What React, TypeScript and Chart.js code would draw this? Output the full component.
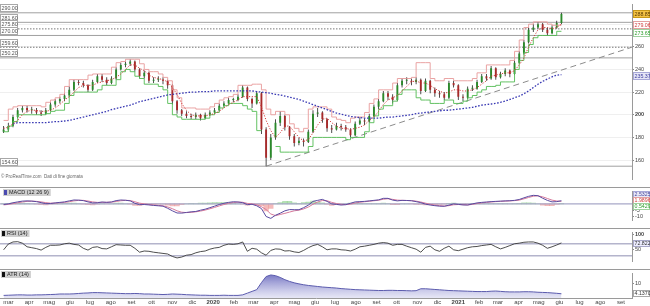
import React, { useEffect, useRef } from 'react';
import { Chart, registerables } from 'chart.js';
Chart.register(...registerables);

// ---------------- data (weekly) ----------------
const firstWeek = '2019-02-22';
const firstOpen = 185;
const closes = [
  187,190,198,204,206,204,204,202,201,204,
  209,212,214,217,222,229,228,226,222,229,
  234,231,228,232,240,244,245,247,240,234,
  237,230,231,231,230,226,212,204,201,199,
  198,200,197,200,202,204,208,210,213,213,
  216,224,214,210,219,187,162,180,193,199,
  189,181,175,177,176,185,201,202,196,188,
  187,190,189,187,182,192,195,194,199,207,
  212,219,216,213,226,230,230,229,231,221,
  230,222,219,218,215,228,226,216,215,223,
  223,229,234,232,241,233,236,239,236,246,
  254,264,275,277,280,275,272,277,281,288.85];
const highs = [
  190,193,200,206,208,208,207,206,204,206,
  211,214,216,219,225,231,231,230,227,231,
  236,236,233,234,242,246,247,249,248,241,
  239,238,233,234,233,231,227,213,205,203,
  201,202,201,202,204,206,210,212,215,215,
  218,226,225,215,221,220,189,183,196,203,
  200,190,183,180,179,187,204,206,203,197,
  191,193,192,191,188,194,198,197,201,209,
  214,221,221,218,228,232,233,232,233,232,
  232,231,224,221,220,230,230,227,218,225,
  226,231,236,236,243,242,238,241,240,248,
  256,266,277,280,281.6,281,277,279,283,290];
const lows = [
  184,185,189,197,202,202,201,200,199,200,
  203,207,210,212,216,221,226,224,220,221,
  228,229,226,227,231,239,242,243,238,232,
  232,228,228,229,227,223,209,201,199,197,
  196,196,195,196,199,201,203,207,209,211,
  212,215,212,206,209,183,154.6,160,178,190,
  186,178,172,173,172,175,184,198,193,185,
  184,186,186,185,180,181,191,191,193,198,
  205,211,213,210,212,224,227,226,227,218,
  220,219,216,215,213,214,224,213,212,214,
  221,222,228,230,231,231,232,234,233,235,
  245,253,263,273,276,273,270,271,276,280];
const upperStop = [
  195,195,205,207,208,208,208,208,208,207,
  211,213,215,218,225,231,231,231,231,235,
  236,236,236,236,242,246,247,249,249,249,
  245,240,238,238,236,233,230,222,215,206,
  206,206,205,205,205,207,210,213,215,216,
  218,226,226,226,227,227,222,205,200,203,
  203,200,192,188,185,188,205,207,207,207,
  205,198,196,195,193,197,198,198,202,210,
  214,222,222,222,228,232,232,232,233,246,
  246,246,232,230,230,232,232,230,230,230,
  230,232,237,237,244,244,244,244,244,248,
  256,266,277,280,282,282,282,280,279,279.06];
const lowerStop = [
  185,185,190,194,200,200,200,200,200,200,
  201,203,204,204,210,217,220,220,220,220,
  220,222,226,226,226,231,238,240,238,234,
  232,227,227,227,225,222,210,200,198,196,
  196,196,196,196,197,200,202,206,208,210,
  210,210,208,205,203,186,null,null,172,172,
  167,167,167,167,167,167,172,180,180,180,
  180,180,180,180,178,180,180,180,185,193,
  199,205,208,208,212,218,222,222,222,215,
  213,213,210,210,210,213,213,210,210,212,
  215,217,220,222,225,225,226,229,229,229,
  240,248,255,262,268,270,270,270,270,273.65];
const maShort = [
  188,189,192,195,200,203,204,204,203,203,
  204,206,209,213,216,220,224,226,226,226,
  228,229,230,231,233,236,240,244,244,241,
  239,235,233,232,231,229,224,218,210,204,
  200,199,199,199,200,201,203,206,209,211,
  213,216,216,216,216,207,195,186,180,184,
  190,190,185,180,177,178,184,191,196,197,
  193,190,188,188,187,188,189,191,195,198,
  203,209,213,215,217,221,225,229,230,228,
  228,226,223,221,219,220,222,222,221,221,
  222,224,227,230,234,235,236,237,237,239,
  244,250,260,268,275,277,277,276,277,280];
const maLong = [
  null,null,192,193,193,193,193,193,193,193,
  193.5,194,194,194.5,195,196,197,198,199,200,
  201,202,203,204.5,205.5,206.5,207.5,208.5,210,211.5,
  212.5,213.5,214.5,215.5,216.5,217.5,218,218.5,219,219.5,
  220,220,220.5,220.5,220.5,221,221,221,221,221,
  221,221,221,221,220.5,220,219.5,219,218,217.5,
  216.5,215.5,214.5,213.5,212,210.5,209,207.5,206,204.5,
  203,201.5,200.5,199.5,198.5,198,197.5,197,197,197,
  197,197.5,198,198,198.5,199,199.5,200,201,201.5,
  202,202.5,203,203.5,204,204,204.5,205,205.5,206,
  206.5,207.5,208.5,209,209.5,210,211,212,213.5,215,
  216.5,218.5,221,224,227,229.5,231.5,233.5,235,235.37];
const macdLine = [
  -0.5,0,0.9,1.6,2.2,2.4,2.2,1.8,1.0,0.2,
  0.3,0.8,1.2,1.6,2.4,3.1,3.0,2.6,1.6,0.8,
  0.9,1.5,1.2,1.5,2.6,3.1,2.9,2.4,0.5,-0.6,
  -0.5,-0.8,-1.2,-1.5,-1.8,-3.5,-5.5,-7.2,-7.3,-6.8,
  -6.3,-6.0,-5.0,-4.2,-3.0,-1.8,-0.5,0.5,1.2,1.7,
  1.5,1.0,-0.6,-0.3,-1.5,-3.7,-10,-11.5,-9.0,-7.4,
  -5.5,-4.5,-4.6,-4.6,-3.0,-1.0,2.0,2.8,3.6,2.0,
  0,-0.4,-0.9,-0.6,0.5,1.6,1.8,2.0,2.4,2.8,
  3.2,4.4,4.4,3.0,2.4,2.8,2.7,2.5,1.8,1.0,
  -0.2,-0.9,-1.4,-1.8,-1.9,-1.0,0,-0.4,-0.8,-0.9,
  0,0.8,1.2,1.5,1.8,2.0,2.2,2.4,2.5,2.8,
  3.5,4.8,6.0,6.8,6.5,4.5,2.8,1.6,1.8,2.5325];
const macdSignal = [
  -0.8,-0.4,0.2,0.9,1.5,2.0,2.2,2.0,1.6,1.0,
  0.6,0.6,0.9,1.2,1.7,2.4,2.8,2.8,2.3,1.6,
  1.2,1.2,1.3,1.4,1.9,2.5,2.8,2.7,1.7,0.6,
  0,-0.5,-0.8,-1.2,-1.5,-2.4,-3.8,-5.5,-6.6,-6.9,
  -6.7,-6.3,-5.7,-4.9,-3.9,-2.8,-1.6,-0.5,0.4,1.1,
  1.4,1.3,0.4,0,-0.7,-2.2,-4.5,-8.0,-9.3,-8.4,
  -7.5,-6.5,-5.5,-5.0,-4.0,-2.5,-0.3,1.5,2.7,2.5,
  1.2,0.3,-0.4,-0.6,-0.2,0.7,1.3,1.7,2.1,2.5,
  2.9,3.7,4.1,3.6,3.0,2.8,2.7,2.6,2.2,1.5,
  0.6,-0.3,-0.9,-1.4,-1.7,-1.4,-0.7,-0.5,-0.6,-0.8,
  -0.4,0.3,0.8,1.2,1.5,1.8,2.0,2.2,2.4,2.6,
  3.0,4.0,5.1,6.1,6.4,5.6,4.3,3.0,2.3,1.9896];
const macdHist = [
  0.3,0.4,0.7,0.7,0.7,0.4,0,-0.2,-0.6,-0.8,
  -0.3,0.2,0.3,0.4,0.7,0.7,0.2,-0.2,-0.7,-0.8,
  -0.3,0.3,-0.1,0.1,0.7,0.6,0.1,-0.3,-1.2,-1.2,
  -0.5,-0.3,-0.4,-0.3,-0.3,-1.1,-1.7,-1.7,-0.7,0.1,
  0.4,0.3,0.7,0.7,0.9,1.0,1.1,1.0,0.8,0.6,
  0.1,-0.3,-1.0,-0.3,-0.8,-1.5,-5.5,-3.5,0.3,1.0,
  2.0,2.0,0.9,0.4,1.0,1.5,2.3,1.3,0.9,-0.5,
  -1.2,-0.7,-0.5,0,0.7,0.9,0.5,0.3,0.3,0.3,
  0.3,0.7,0.3,-0.6,-0.6,0,0,-0.1,-0.4,-0.5,
  -0.8,-0.6,-0.5,-0.4,-0.2,0.4,0.7,0.1,-0.2,-0.1,
  0.4,0.5,0.4,0.3,0.3,0.2,0.2,0.2,0.1,0.2,
  0.5,0.8,0.9,0.7,0.1,-1.1,-1.5,-1.4,-0.5,0.5429];
const rsi = [
  50,69,76,77,72,60,57,54,49,58,
  65,65,66,70,72,68,66,55,49,58,
  60,54,53,60,67,66,65,65,55,42,
  46,45,42,40,38,36,28,23,26,32,
  34,40,44,46,52,56,58,65,69,68,
  70,76,45,55,52,40,32,48,53,52,
  46,47,43,41,48,57,64,68,60,50,
  53,53,50,49,46,52,60,62,65,68,
  72,74,72,65,68,68,62,57,52,42,
  58,62,50,45,55,62,50,47,52,57,
  60,61,64,66,68,60,53,58,64,70,
  72,75,76,76,72,65,55,60,66,72.822];
const atr = [
  3.2,3.3,3.4,3.5,3.5,3.4,3.4,3.5,3.5,3.6,
  3.7,3.8,4.0,4.0,4.0,4.1,4.3,4.5,4.6,4.8,
  4.8,4.7,4.6,4.5,4.4,4.3,4.2,4.2,4.3,4.2,
  4.0,4.0,3.9,3.8,3.7,3.8,4.0,3.9,3.8,3.6,
  3.5,3.4,3.3,3.3,3.2,3.2,3.2,3.3,3.2,3.2,
  3.2,3.5,4.5,5.5,6.5,10.5,14.0,14.9,14.5,13.5,
  12.2,11.2,10.4,9.8,9.3,8.9,8.6,8.3,8.0,7.8,
  7.6,7.4,7.1,6.9,6.7,6.5,6.4,6.3,6.2,6.1,
  6.0,6.0,6.1,6.1,6.0,6.0,5.9,5.8,5.9,7.0,
  7.0,6.8,6.6,6.4,6.2,6.0,5.9,5.8,5.7,5.6,
  5.5,5.4,5.4,5.4,5.6,5.7,5.5,5.3,5.2,5.2,
  5.2,5.3,5.3,5.2,5.0,4.9,4.8,4.6,4.4,4.137];
const levelsSolid = [290, 281.6, 270, 250.2, 154.6];
const levelsDotted = [275.8, 259.6];
const trendDates = ['2020-03-20', '2021-09-17'];
const trendValues = [154.6, 259.6];
const rsiLevels = [70, 30];
const priceTicks = [160, 180, 200, 220, 240, 260, 280];
const macdTicks = [-10, -5, 5];
const rsiTicks = [50, 100];
const atrTicks = [10];
const monthNames = ['gen', 'feb', 'mar', 'apr', 'mag', 'giu', 'lug', 'ago', 'set', 'ott', 'nov', 'dic'];
const axisStart = '2019-02-16';
const axisEnd = '2021-09-17';

// ---------------- helpers ----------------
const FONT = "'Liberation Sans', Arial, sans-serif";
const DAY0 = Date.UTC(2019, 0, 1);
const dayNum = (s: string) => {
  const [y, m, d] = s.split('-').map(Number);
  return (Date.UTC(y, m - 1, d) - DAY0) / 86400000;
};
const weekDays = closes.map((_, i) => dayNum(firstWeek) + 7 * i);
const X_MIN = dayNum(axisStart) + 0.6;
const X_MAX = dayNum(axisEnd) + 0.4;
const pts = (arr: (number | null)[]) => arr.map((v, i) => ({ x: weekDays[i], y: v }));
const opens = closes.map((_, i) => (i === 0 ? firstOpen : closes[i - 1]));

const monthTicks: { value: number; label: string; bold: boolean }[] = [];
for (let y = 2019; y <= 2021; y++) {
  for (let m = 0; m < 12; m++) {
    const v = (Date.UTC(y, m, 1) - DAY0) / 86400000;
    if (v < X_MIN || v > X_MAX) continue;
    monthTicks.push({ value: v, label: m === 0 ? String(y) : monthNames[m], bold: m === 0 });
  }
}

function xScale(show: boolean) {
  return {
    type: 'linear',
    min: X_MIN,
    max: X_MAX,
    offset: false,
    display: show,
    afterBuildTicks: (s: any) => { s.ticks = monthTicks.map((t) => ({ value: t.value })); },
    afterFit: (s: any) => { s.height = 8; },
    grid: { display: false, drawTicks: false, offset: false },
    border: { display: true, color: '#9a9a9a' },
    ticks: {
      autoSkip: false,
      maxRotation: 0,
      padding: 1,
      color: '#444',
      font: (c: any) => {
        const t = monthTicks.find((m) => Math.abs(m.value - (c.tick ? c.tick.value : 0)) < 0.01);
        return { family: FONT, size: 6, weight: t && t.bold ? 'bold' : 'normal' };
      },
      callback: (v: any) => {
        const t = monthTicks.find((m) => Math.abs(m.value - v) < 0.01);
        return t ? t.label : '';
      },
    },
  };
}

function yScale(min: number, max: number, ticks: number[], grid: boolean, boldVal?: number) {
  return {
    position: 'right',
    min,
    max,
    afterBuildTicks: (s: any) => { s.ticks = ticks.map((v) => ({ value: v })); },
    afterFit: (s: any) => { s.width = 18; },
    grid: { color: '#efefef', drawOnChartArea: grid, drawTicks: true, tickLength: 2, tickColor: '#888' },
    border: { display: true, color: '#9a9a9a' },
    ticks: {
      padding: 1,
      color: '#444',
      font: (c: any) => ({ family: FONT, size: 5.5, weight: c.tick && c.tick.value === boldVal ? 'bold' : 'normal' }),
    },
  };
}

const baseOptions = {
  responsive: false,
  maintainAspectRatio: false,
  animation: false,
  devicePixelRatio: 1,
  events: [],
  layout: { padding: 0, autoPadding: false },
  plugins: { legend: { display: false }, tooltip: { enabled: false } },
};

function drawBox(ctx: CanvasRenderingContext2D, x: number, yc: number, w: number, h: number, text: string,
  o: { bg: string; border: string; color: string }) {
  ctx.save();
  const top = Math.round(yc - h / 2);
  ctx.fillStyle = o.bg;
  ctx.fillRect(x, top, w, h);
  ctx.strokeStyle = o.border;
  ctx.lineWidth = 1;
  ctx.strokeRect(x + 0.5, top + 0.5, w - 1, h - 1);
  ctx.fillStyle = o.color;
  ctx.font = `5.3px ${FONT}`;
  ctx.textBaseline = 'middle';
  ctx.textAlign = 'left';
  ctx.fillText(text, x + 1.5, top + h / 2 + 0.3);
  ctx.restore();
}

function drawPanelLabel(ctx: CanvasRenderingContext2D, x: number, y: number, text: string, square: string) {
  ctx.save();
  ctx.font = `5.5px ${FONT}`;
  const w = ctx.measureText(text).width + 8;
  ctx.fillStyle = '#cfcfcf';
  ctx.fillRect(x, y, w, 7);
  ctx.fillStyle = square;
  ctx.fillRect(x + 1, y + 1, 3, 5);
  ctx.fillStyle = '#222';
  ctx.textBaseline = 'middle';
  ctx.fillText(text, x + 6, y + 3.8);
  ctx.restore();
}

function spread(ys: number[], gap: number) {
  const out = ys.slice();
  for (let i = 1; i < out.length; i++) if (out[i] - out[i - 1] < gap) out[i] = out[i - 1] + gap;
  return out;
}

function separator(chart: any) {
  const ctx = chart.ctx;
  ctx.save();
  ctx.strokeStyle = '#9a9a9a';
  ctx.lineWidth = 1;
  ctx.beginPath();
  ctx.moveTo(0, 0.5);
  ctx.lineTo(chart.width, 0.5);
  ctx.stroke();
  ctx.restore();
}

const last = closes.length - 1;

// ---------------- configs ----------------
function mainConfig(): any {
  const bodies = closes.map((c, i) => ({ x: weekDays[i], y: [Math.min(opens[i], c), Math.max(opens[i], c)] }));
  const bodyColors = closes.map((c, i) => (c >= opens[i] ? '#2b8a2b' : '#a82a2a'));
  const wicks = closes.map((_, i) => ({ x: weekDays[i], y: [lows[i], highs[i]] }));
  const lineDs = (data: any, color: string, extra: any = {}) => ({
    type: 'line', data, borderColor: color, borderWidth: 1, pointRadius: 0, fill: false, tension: 0, ...extra,
  });
  const levelSets = [
    ...levelsSolid.map((v) => lineDs([{ x: X_MIN, y: v }, { x: X_MAX, y: v }], '#a0a0a0', { order: 9 })),
    ...levelsDotted.map((v) => lineDs([{ x: X_MIN, y: v }, { x: X_MAX, y: v }], '#777', { borderDash: [1.5, 1.5], order: 9 })),
  ];
  return {
    type: 'line',
    data: {
      datasets: [
        lineDs(pts(maShort), '#d23a3a', { borderDash: [1.2, 1.6], order: 1 }),
        lineDs(pts(maLong), '#3a3ab4', { borderDash: [1.6, 1.6], borderWidth: 1.3, order: 1 }),
        lineDs(pts(upperStop), '#e89a9a', { stepped: 'after', order: 2, borderWidth: 0.9 }),
        lineDs(pts(lowerStop), '#52bb52', { stepped: 'after', order: 2, spanGaps: false, borderWidth: 0.9 }),
        lineDs(trendDates.map((d, i) => ({ x: dayNum(d), y: trendValues[i] })), '#8c8c8c', { borderDash: [6, 4], order: 3 }),
        { type: 'bar', data: bodies, backgroundColor: bodyColors, grouped: false, barPercentage: 0.5, minBarLength: 1, borderWidth: 0, order: 4 },
        { type: 'bar', data: wicks, backgroundColor: '#2a2a2a', grouped: false, barPercentage: 0.22, borderWidth: 0, order: 5 },
        ...levelSets,
      ],
    },
    options: {
      ...baseOptions,
      scales: { x: xScale(false), y: yScale(143.3, 297.5, priceTicks, true, 200) },
    },
    plugins: [{
      id: 'mainDecor',
      afterDraw(chart: any) {
        const ctx = chart.ctx;
        const ys = chart.scales.y;
        const ca = chart.chartArea;
        [...levelsSolid, ...levelsDotted].forEach((v) => {
          const py = ys.getPixelForValue(v);
          drawBox(ctx, 0, py - 4.5, 18, 8, v.toFixed(2), { bg: '#fff', border: '#a8a8a8', color: '#555' });
        });
        const items = [
          { v: closes[last], t: closes[last].toFixed(2), s: { bg: '#f5c445', border: '#c99a1a', color: '#5a3a00' } },
          { v: upperStop[last] as number, t: (upperStop[last] as number).toFixed(2), s: { bg: '#fff', border: '#e3a0a0', color: '#d04040' } },
          { v: lowerStop[last] as number, t: (lowerStop[last] as number).toFixed(2), s: { bg: '#fff', border: '#9fd09f', color: '#30a030' } },
        ];
        const yy = spread(items.map((it) => ys.getPixelForValue(it.v)), 7.5);
        items.forEach((it, i) => drawBox(ctx, ca.right + 1, yy[i], 17, 8, it.t, it.s));
        const ml = maLong[last] as number;
        drawBox(ctx, ca.right + 1, ys.getPixelForValue(ml) + 1, 17, 8, ml.toFixed(2), { bg: '#e6e6f6', border: '#a8a8d8', color: '#4040a0' });
        ctx.save();
        ctx.fillStyle = '#666';
        ctx.font = `4.5px ${FONT}`;
        ctx.textBaseline = 'middle';
        ctx.fillText('\u00A9 ProRealTime.com  Dati di fine giornata', 1, ca.bottom - 2.5);
        ctx.restore();
      },
    }],
  };
}

function macdConfig(): any {
  return {
    type: 'line',
    data: {
      datasets: [
        { type: 'line', data: pts(macdLine), borderColor: '#5a4aa0', borderWidth: 1, pointRadius: 0, order: 1 },
        { type: 'line', data: pts(macdSignal), borderColor: '#d77a9a', borderWidth: 1, pointRadius: 0, order: 1 },
        { type: 'line', data: [{ x: X_MIN, y: 0 }, { x: X_MAX, y: 0 }], borderColor: '#a8a8c8', borderWidth: 1.2, pointRadius: 0, order: 2 },
        {
          type: 'bar', data: pts(macdHist), grouped: false, barPercentage: 1, categoryPercentage: 1, borderWidth: 0, order: 3,
          backgroundColor: macdHist.map((v) => (v >= 0 ? 'rgba(120,200,120,0.55)' : 'rgba(235,130,130,0.55)')),
        },
      ],
    },
    options: { ...baseOptions, scales: { x: xScale(false), y: yScale(-12.78, 10, macdTicks, false) } },
    plugins: [{
      id: 'macdDecor',
      afterDraw(chart: any) {
        const ctx = chart.ctx;
        const ys = chart.scales.y;
        const ca = chart.chartArea;
        separator(chart);
        drawPanelLabel(ctx, 3, 2, 'MACD (12 26 9)', '#4a4ab0');
        const items = [
          { v: macdLine[last], t: macdLine[last].toFixed(4), s: { bg: '#e8e8f6', border: '#a8a8d8', color: '#4a4aa0' } },
          { v: macdSignal[last], t: macdSignal[last].toFixed(4), s: { bg: '#fff', border: '#e3a0a0', color: '#d04040' } },
          { v: macdHist[last], t: macdHist[last].toFixed(4), s: { bg: '#fff', border: '#9fd09f', color: '#30a030' } },
        ];
        const base = items.map((it) => ys.getPixelForValue(it.v));
        const yy = spread([base[0] - 6, base[1] - 2, base[2] + 1], 6);
        items.forEach((it, i) => drawBox(ctx, ca.right + 1, yy[i], 17, 7, it.t, it.s));
      },
    }],
  };
}

function rsiConfig(): any {
  return {
    type: 'line',
    data: {
      datasets: [
        { type: 'line', data: pts(rsi), borderColor: '#3a3a3a', borderWidth: 0.9, pointRadius: 0, order: 1 },
        ...rsiLevels.map((v) => ({ type: 'line', data: [{ x: X_MIN, y: v }, { x: X_MAX, y: v }], borderColor: '#b4b4cc', borderWidth: 1.5, pointRadius: 0, order: 2 })),
      ],
    },
    options: { ...baseOptions, scales: { x: xScale(false), y: yScale(12.8, 108.1, rsiTicks, false, 100) } },
    plugins: [{
      id: 'rsiDecor',
      afterDraw(chart: any) {
        const ctx = chart.ctx;
        const ys = chart.scales.y;
        const ca = chart.chartArea;
        separator(chart);
        drawPanelLabel(ctx, 1, 2, 'RSI (14)', '#111');
        drawBox(ctx, ca.right + 1, ys.getPixelForValue(rsi[last]) + 1, 17, 7, rsi[last].toFixed(3), { bg: '#eef', border: '#a8a8c8', color: '#333' });
      },
    }],
  };
}

function atrConfig(): any {
  return {
    type: 'line',
    data: {
      datasets: [{
        type: 'line', data: pts(atr), borderColor: '#5c5cae', borderWidth: 1, pointRadius: 0, fill: 'start',
        backgroundColor: (c: any) => {
          const ch = c.chart;
          const ca = ch.chartArea;
          if (!ca) return 'rgba(150,150,210,0.5)';
          const g = ch.ctx.createLinearGradient(0, ca.top, 0, ca.bottom);
          g.addColorStop(0, 'rgba(95,95,185,0.9)');
          g.addColorStop(1, 'rgba(215,215,240,0.6)');
          return g;
        },
      }],
    },
    options: { ...baseOptions, scales: { x: xScale(true), y: yScale(1.71, 15.85, atrTicks, false) } },
    plugins: [{
      id: 'atrDecor',
      afterDraw(chart: any) {
        const ctx = chart.ctx;
        const ys = chart.scales.y;
        const ca = chart.chartArea;
        separator(chart);
        drawPanelLabel(ctx, 1, 2, 'ATR (14)', '#111');
        drawBox(ctx, ca.right + 1, ys.getPixelForValue(atr[last]), 17, 7, atr[last].toFixed(4), { bg: '#fff', border: '#a8a8a8', color: '#333' });
      },
    }],
  };
}

export default function App() {
  const r1 = useRef<HTMLCanvasElement>(null);
  const r2 = useRef<HTMLCanvasElement>(null);
  const r3 = useRef<HTMLCanvasElement>(null);
  const r4 = useRef<HTMLCanvasElement>(null);
  useEffect(() => {
    const charts = [
      new Chart(r1.current as HTMLCanvasElement, mainConfig()),
      new Chart(r2.current as HTMLCanvasElement, macdConfig()),
      new Chart(r3.current as HTMLCanvasElement, rsiConfig()),
      new Chart(r4.current as HTMLCanvasElement, atrConfig()),
    ];
    return () => charts.forEach((c) => c.destroy());
  }, []);
  const cs = (top: number): React.CSSProperties => ({ position: 'absolute', left: 0, top, display: 'block' });
  return (
    <div style={{ position: 'fixed', left: 0, top: 0, width: 650, height: 306, background: '#fff', overflow: 'hidden' }}>
      <canvas ref={r1} width={650} height={187} style={cs(0)} />
      <canvas ref={r2} width={650} height={41} style={cs(187)} />
      <canvas ref={r3} width={650} height={41} style={cs(228)} />
      <canvas ref={r4} width={650} height={37} style={cs(269)} />
    </div>
  );
}
